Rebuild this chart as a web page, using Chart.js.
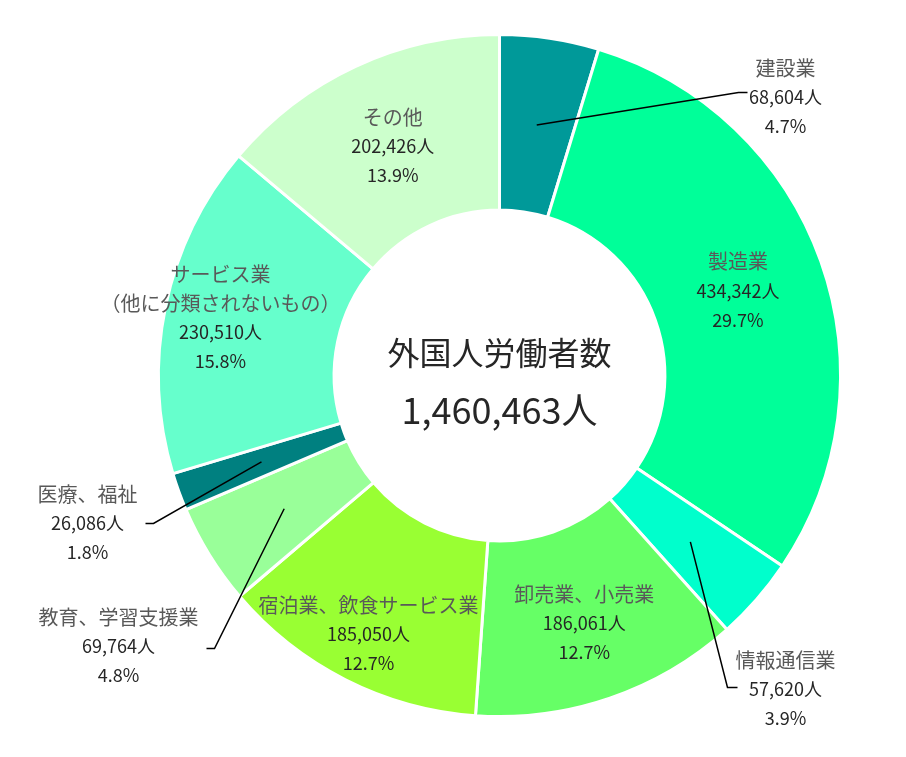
<!DOCTYPE html>
<html>
<head>
<meta charset="utf-8">
<script src="https://cdn.jsdelivr.net/npm/chart.js@4.4.1/dist/chart.umd.min.js"></script>
<style>
  body { margin: 0; background: #fff; }
</style>
</head>
<body>
<canvas id="chart" width="906" height="757"></canvas>
<script>
// 産業別 外国人労働者数
const categories = [
  ["建設業"],
  ["製造業"],
  ["情報通信業"],
  ["卸売業、小売業"],
  ["宿泊業、飲食サービス業"],
  ["教育、学習支援業"],
  ["医療、福祉"],
  ["サービス業", "（他に分類されないもの）"],
  ["その他"],
];
const workers = [68604, 434342, 57620, 186061, 185050, 69764, 26086, 230510, 202426];
const colors = ["#009999", "#00FF99", "#00FFCC", "#66FF66", "#99FF33", "#99FF99", "#008080", "#66FFCC", "#CCFFCC"];

const total = workers.reduce((a, b) => a + b, 0);

// label placement: inside ones sit on the slice at radius r,
// outside ones get a leader line (offsets are from the doughnut centre)
const labelPlace = [
  { out: true, tx: 286, ty: -307, elbow: [239, -283], end: [248, -283] },
  { r: 253 },
  { out: true, tx: 286, ty: 285, elbow: [228, 312], end: [238, 312] },
  { r: 262 },
  { r: 290 },
  { out: true, tx: -381, ty: 242, elbow: [-285, 273], end: [-293, 273] },
  { out: true, tx: -412, ty: 119, elbow: [-346, 148], end: [-354, 148] },
  { r: 285 },
  { r: 253 },
];

const LINE = 29;

function drawBlock(ctx, lines, x, y, top) {
  // top = true -> y is first line, else y is block centre
  let y0 = top ? y : y - (lines.length - 1) * LINE / 2;
  lines.forEach((ln, i) => {
    ctx.font = ln.name ? '20px "Noto Sans CJK JP"' : '18px "Noto Sans CJK JP"';
    ctx.fillStyle = ln.name ? "#595959" : "#262626";
    ctx.fillText(ln.text, x, y0 + i * LINE);
  });
}

const labelPlugin = {
  id: "sliceLabels",
  afterDatasetsDraw(chart) {
    const ctx = chart.ctx;
    const arcs = chart.getDatasetMeta(0).data;
    ctx.save();
    ctx.textAlign = "center";
    ctx.textBaseline = "middle";
    arcs.forEach((arc, i) => {
      const p = labelPlace[i];
      const mid = (arc.startAngle + arc.endAngle) / 2;
      const lines = categories[i].map((t) => ({ text: t, name: true }));
      lines.push({ text: workers[i].toLocaleString("en-US") + "人" });
      lines.push({ text: (workers[i] / total * 100).toFixed(1) + "%" });
      if (p.out) {
        const rm = (arc.innerRadius + arc.outerRadius) / 2;
        ctx.beginPath();
        ctx.moveTo(arc.x + Math.cos(mid) * rm, arc.y + Math.sin(mid) * rm);
        ctx.lineTo(arc.x + p.elbow[0], arc.y + p.elbow[1]);
        ctx.lineTo(arc.x + p.end[0], arc.y + p.end[1]);
        ctx.strokeStyle = "#000";
        ctx.lineWidth = 1.5;
        ctx.stroke();
        drawBlock(ctx, lines, arc.x + p.tx, arc.y + p.ty, true);
      } else {
        drawBlock(ctx, lines, arc.x + Math.cos(mid) * p.r, arc.y + Math.sin(mid) * p.r, false);
      }
    });
    // centre text
    const c = arcs[0];
    ctx.fillStyle = "#262626";
    ctx.font = '32px "Noto Sans CJK JP"';
    ctx.fillText("外国人労働者数", c.x, c.y - 23);
    ctx.font = '36px "Noto Sans CJK JP"';
    ctx.fillText(total.toLocaleString("en-US") + "人", c.x, c.y + 35);
    ctx.restore();
  },
};

new Chart(document.getElementById("chart"), {
  type: "doughnut",
  data: {
    labels: categories.map((c) => c.join("")),
    datasets: [
      {
        data: workers,
        backgroundColor: colors,
        borderColor: "#fff",
        borderWidth: 3,
      },
    ],
  },
  options: {
    responsive: false,
    animation: false,
    cutout: "48.5%",
    layout: { padding: { top: 33, bottom: 39, left: 157, right: 64 } },
    plugins: {
      legend: { display: false },
      tooltip: { enabled: false },
    },
  },
  plugins: [labelPlugin],
});
</script>
</body>
</html>
